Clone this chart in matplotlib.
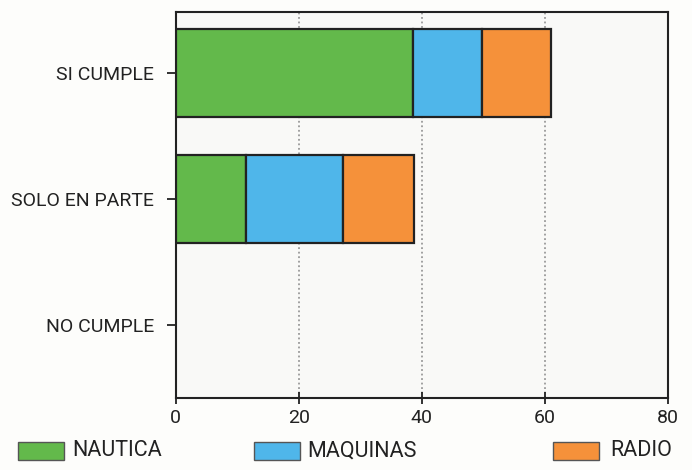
import matplotlib.pyplot as plt
from matplotlib.patches import Rectangle

# data
categories = ['SI CUMPLE', 'SOLO EN PARTE', 'NO CUMPLE']
nautica = [38.6, 11.5, 0]
maquinas = [11.2, 15.7, 0]
radio = [11.2, 11.5, 0]
series_names = ['NAUTICA', 'MAQUINAS', 'RADIO']
colors = ['#63b94b', '#4fb6ea', '#f5913a']
xticks = [0, 20, 40, 60, 80]

plt.rcParams['font.family'] = ['Roboto', 'DejaVu Sans']

fig = plt.figure(figsize=(6.92, 4.70), dpi=100)
fig.patch.set_facecolor('#fdfdfb')
ax = fig.add_axes([0.254, 0.153, 0.711, 0.822])
ax.set_facecolor('#f9f9f7')

ypos = list(range(len(categories)))
left = [0] * len(categories)
for vals, col in zip([nautica, maquinas, radio], colors):
    # skip empty segments so no stray edge line is drawn
    idx = [i for i, v in enumerate(vals) if v > 0]
    ax.barh([ypos[i] for i in idx], [vals[i] for i in idx],
            left=[left[i] for i in idx], height=0.70, color=col,
            edgecolor='#222222', linewidth=1.6, zorder=3)
    left = [a + b for a, b in zip(left, vals)]

ax.set_xlim(0, 80)
ax.set_ylim(2.58, -0.484)
ax.set_xticks(xticks)
ax.set_xticklabels([str(t) for t in xticks], fontsize=14, color='#222222')
ax.set_yticks(ypos)
ax.set_yticklabels(categories, fontsize=14, color='#222222')
ax.tick_params(axis='y', direction='out', length=6.5, width=1.3,
               color='#222222', pad=9)
ax.tick_params(axis='x', direction='inout', length=9, width=1.3,
               color='#222222', pad=3)

for x in [20, 40, 60]:
    ax.axvline(x, color='#999999', linestyle=(0, (1, 1.5)), linewidth=1.3, zorder=1)

for s in ax.spines.values():
    s.set_color('#222222')
    s.set_linewidth(1.5)

# legend along the bottom
patch_x = [18, 254, 553]
text_x = [72, 307, 610]
for name, col, px, tx in zip(series_names, colors, patch_x, text_x):
    fig.add_artist(Rectangle((px / 692, 10 / 470), 46 / 692, 18 / 470,
                             transform=fig.transFigure, facecolor=col,
                             edgecolor='#555555', linewidth=1))
    fig.text(tx / 692, 19 / 470, name, fontsize=15.5, va='center',
             color='#222222')

fig.savefig('out.png', dpi=100, facecolor=fig.get_facecolor())
